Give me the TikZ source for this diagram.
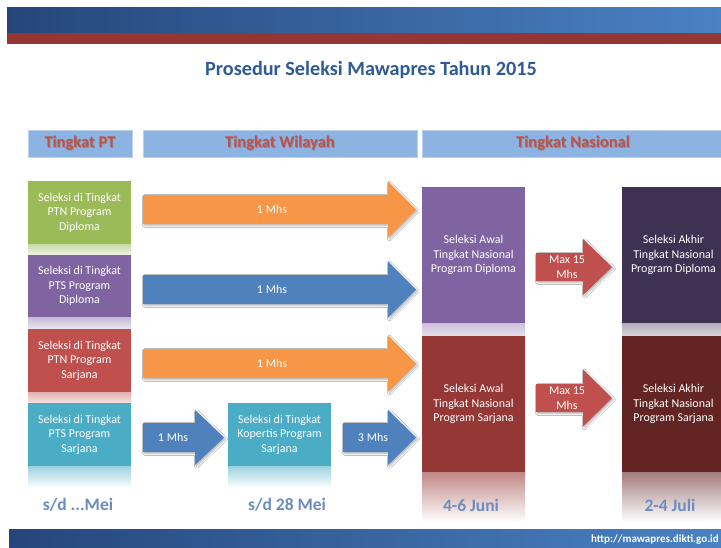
\documentclass[tikz,border=0pt]{standalone}
\usepackage{fontspec}
\setmainfont{Carlito}
\usetikzlibrary{shadows.blur}
\definecolor{bandL}{HTML}{25467A}
\definecolor{bandR}{HTML}{4A82C4}
\definecolor{bandRed}{HTML}{943634}
\definecolor{hdr}{HTML}{8DB3E2}
\definecolor{hdrTxt}{HTML}{C0504D}
\definecolor{cGreen}{HTML}{9BBB59}
\definecolor{cPurple}{HTML}{8064A2}
\definecolor{cRed}{HTML}{C0504D}
\definecolor{cCyan}{HTML}{4BACC6}
\definecolor{cOrange}{HTML}{F79646}
\definecolor{cBlue}{HTML}{4F81BD}
\definecolor{cDRed}{HTML}{953735}
\definecolor{cDPurple}{HTML}{3F3151}
\definecolor{cDDRed}{HTML}{632523}
\definecolor{titleC}{HTML}{2E5A96}
\definecolor{dateC}{HTML}{6A8CC0}
\newcommand\fatarrow[7]{%
  \fill[#1, blur shadow={shadow blur steps=6, shadow xshift=1.5pt, shadow yshift=-1.5pt, shadow opacity=30}]
    (#2,#5-#6) -- (#3,#5-#6) -- (#3,#5-#7) -- (#4,#5) -- (#3,#5+#7) -- (#3,#5+#6) -- (#2,#5+#6) -- cycle;}
\begin{document}
\begin{tikzpicture}[x=1pt,y=-1pt,
  box/.style={draw=none, text=white, font=\fontsize{12}{14.5}\selectfont, align=center, inner sep=0pt},
  hdrbar/.style={fill=hdr, draw=hdr!60!white, line width=0.6pt},
  hdrtext/.style={font=\fontsize{16.5}{18}\selectfont\bfseries, text=hdrTxt},
  lbl/.style={text=white, font=\fontsize{12}{15}\selectfont, align=center, inner sep=0pt},
  date/.style={font=\fontsize{17.5}{19}\selectfont\bfseries, text=dateC}]
\useasboundingbox (0,0) rectangle (721,547);
\fill[white] (0,0) rectangle (721,547);
% top bands
\shade[left color=bandL, right color=bandR] (7,7) rectangle (721,33);
\fill[bandRed] (7,33) rectangle (721,44);
% bottom band
\shade[left color=bandL, right color=bandR] (9,529) rectangle (721,547);
\node[anchor=east, text=white, font=\fontsize{11}{13}\selectfont\bfseries, inner sep=0pt] (url) at (719,539.5) {http://mawapres.dikti.go.id};
% title
\node[font=\fontsize{20.2}{23}\selectfont\bfseries, text=titleC] (title) at (371,70) {Prosedur Seleksi Mawapres Tahun 2015};
% header bars
\fill[hdrbar] (28,130) rectangle (132,157);
\fill[hdrbar] (143,130) rectangle (417,157);
\fill[hdrbar] (422,130) rectangle (725,157);
\node[hdrtext, text=black!45] at (80.9,144.4) {Tingkat PT};
\node[hdrtext] (hpt) at (80,143.5) {Tingkat PT};
\node[hdrtext, text=black!45] at (280.9,144.4) {Tingkat Wilayah};
\node[hdrtext] (hwil) at (280,143.5) {Tingkat Wilayah};
\node[hdrtext, text=black!45] at (573.9,144.4) {Tingkat Nasional};
\node[hdrtext] (hnas) at (573,143.5) {Tingkat Nasional};
% reflections
\shade[top color=cGreen!55!white, bottom color=cGreen!15!white] (28,244) rectangle (131,255);
\shade[top color=cPurple!45!white, bottom color=cPurple!15!white] (28,317) rectangle (131,329);
\shade[top color=cRed!45!white, bottom color=cRed!15!white] (28,392) rectangle (131,403);
\shade[top color=cCyan!55!white, bottom color=white] (28,466) rectangle (131,488);
\shade[top color=cCyan!55!white, bottom color=white] (228,466) rectangle (331,488);
\shade[top color=cPurple!40!white, bottom color=cPurple!20!white] (422,323) rectangle (525,336);
\shade[top color=cDPurple!40!white, bottom color=cDPurple!20!white] (622,323) rectangle (725,336);
\shade[top color=cDRed!60!white, bottom color=white] (422,472) rectangle (525,522);
\shade[top color=cDDRed!60!white, bottom color=white] (622,472) rectangle (725,522);
% PT boxes
\node[box, fill=cGreen, minimum width=103pt, minimum height=63pt] (ptnD) at (79.5,212.5) {Seleksi di Tingkat\\PTN Program\\Diploma};
\node[box, fill=cPurple, minimum width=103pt, minimum height=62pt] (ptsD) at (79.5,286) {Seleksi di Tingkat\\PTS Program\\Diploma};
\node[box, fill=cRed, minimum width=103pt, minimum height=63pt] (ptnS) at (79.5,360.5) {Seleksi di Tingkat\\PTN Program\\Sarjana};
\node[box, fill=cCyan, minimum width=103pt, minimum height=63pt] (ptsS) at (79.5,434.5) {Seleksi di Tingkat\\PTS Program\\Sarjana};
\node[box, fill=cCyan, minimum width=103pt, minimum height=63pt] (kop) at (279.5,434.5) {Seleksi di Tingkat\\Kopertis Program\\Sarjana};
% Nasional boxes
\node[box, fill=cPurple, minimum width=103pt, minimum height=136pt] (awalD) at (473.5,255) {Seleksi Awal\\Tingkat Nasional\\Program Diploma};
\node[box, fill=cDRed, minimum width=103pt, minimum height=136pt] (awalS) at (473.5,404) {Seleksi Awal\\Tingkat Nasional\\Program Sarjana};
\node[box, fill=cDPurple, minimum width=103pt, minimum height=136pt] (akhD) at (673.5,255) {Seleksi Akhir\\Tingkat Nasional\\Program Diploma};
\node[box, fill=cDDRed, minimum width=103pt, minimum height=136pt] (akhS) at (673.5,404) {Seleksi Akhir\\Tingkat Nasional\\Program Sarjana};
% arrows
\fatarrow{cOrange}{143}{388}{416}{209.5}{14.5}{28}
\node[lbl] (a1) at (272,209.5) {1 Mhs};
\fatarrow{cBlue}{143}{388}{416}{289.5}{14.5}{28}
\node[lbl] (a2) at (272,289.5) {1 Mhs};
\fatarrow{cOrange}{143}{388}{416}{363.5}{14.5}{28}
\node[lbl] (a3) at (272,363.5) {1 Mhs};
\fatarrow{cBlue}{143}{195}{224}{437.5}{14.5}{27.5}
\node[lbl] (a4) at (173,437.5) {1 Mhs};
\fatarrow{cBlue}{343}{388}{416}{437.5}{14.5}{27.5}
\node[lbl] (a5) at (373,437.5) {3 Mhs};
\fatarrow{cRed}{536}{583}{612}{267}{14}{28}
\node[lbl] (m1) at (567,267) {Max 15\\Mhs};
\fatarrow{cRed}{536}{583}{612}{398}{14}{28.5}
\node[lbl] (m2) at (567,398) {Max 15\\Mhs};
% dates
\node[date] (d1) at (78,505) {s/d ...Mei};
\node[date] (d2) at (287,505) {s/d 28 Mei};
\node[date] (d3) at (471,505) {4-6 Juni};
\node[date] (d4) at (670,505) {2-4 Juli};
\end{tikzpicture}
\end{document}
